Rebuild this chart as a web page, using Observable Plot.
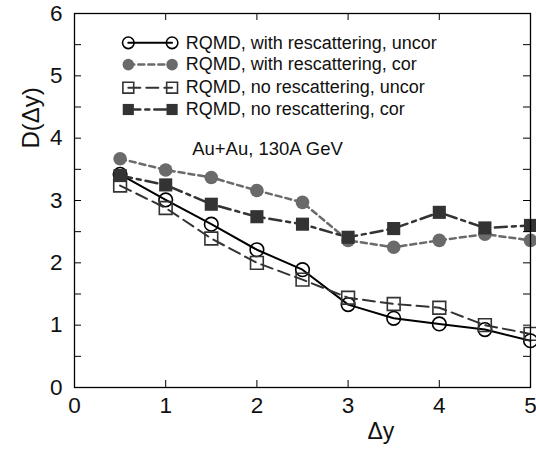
<!DOCTYPE html>
<html>
<head>
<meta charset="utf-8">
<script src="https://cdn.jsdelivr.net/npm/d3@7"></script>
<script src="https://cdn.jsdelivr.net/npm/@observablehq/plot@0.6"></script>
<style>
  html, body { margin: 0; padding: 0; background: #fff; }
  svg { display: block; }
</style>
</head>
<body>
<div id="chart"></div>
<script>
// ---- data ----
const dy = [0.5, 1, 1.5, 2, 2.5, 3, 3.5, 4, 4.5, 5];
const withResUncor = [3.42, 3.01, 2.62, 2.21, 1.89, 1.33, 1.11, 1.02, 0.93, 0.75];
const withResCor   = [3.67, 3.49, 3.37, 3.16, 2.97, 2.36, 2.25, 2.36, 2.46, 2.36];
const noResUncor   = [3.24, 2.88, 2.39, 2.00, 1.73, 1.44, 1.34, 1.28, 1.00, 0.86];
const noResCor     = [3.40, 3.25, 2.94, 2.74, 2.62, 2.41, 2.55, 2.81, 2.56, 2.60];
const seriesNames = [
  "RQMD, with rescattering, uncor",
  "RQMD, with rescattering, cor",
  "RQMD, no rescattering, uncor",
  "RQMD, no rescattering, cor"
];
const xTicks = [0, 1, 2, 3, 4, 5];
const yTicks = [0, 1, 2, 3, 4, 5, 6];
const yMinorTicks = [0.5, 1, 1.5, 2, 2.5, 3, 3.5, 4, 4.5, 5, 5.5];
const annotation = "Au+Au, 130A GeV";
const xLabel = "Δy";
const yLabel = "D(Δy)";

// ---- styles ----
const styles = [
  {values: withResUncor, stroke: "#000", dash: null, symbol: "circle", fill: "none", r: 6.8, sw: 2},
  {values: withResCor, stroke: "#6a6a6a", dash: "6,4", symbol: "circle", fill: "#6a6a6a", r: 6.8, sw: 2.5},
  {values: noResUncor, stroke: "#333", dash: "12,6", symbol: "square", fill: "none", r: 7.2, sw: 2},
  {values: noResCor, stroke: "#333", dash: "12,5,4,5", symbol: "square", fill: "#333", r: 7.4, sw: 2.5}
];

const W = 536, H = 453;
const mL = 74, mR = 6, mT = 13, mB = 66;
const fw = W - mL - mR, fh = H - mT - mB;
const tickLen = 7;

const marks = [];
styles.forEach((s, i) => {
  const data = dy.map((x, j) => ({x, y: s.values[j]}));
  marks.push(Plot.line(data, {x: "x", y: "y", stroke: s.stroke, strokeWidth: s.sw, strokeDasharray: s.dash}));
  marks.push(Plot.dot(data, {x: "x", y: "y", symbol: s.symbol, r: s.r, stroke: s.fill === "none" ? s.stroke : null, strokeWidth: 1.6, fill: s.fill === "none" ? "none" : s.fill}));
});

// legend (placed in data coordinates of the frame)
const legX0 = 0.59, legX1 = 1.07, legTextX = 1.22;
const legY = [5.53, 5.18, 4.81, 4.46];
styles.forEach((s, i) => {
  const seg = [{x: legX0, y: legY[i]}, {x: legX1, y: legY[i]}];
  marks.push(Plot.line(seg, {x: "x", y: "y", stroke: s.stroke, strokeWidth: s.sw, strokeDasharray: s.dash}));
  marks.push(Plot.dot(seg, {x: "x", y: "y", symbol: s.symbol, r: s.r * 0.85, stroke: s.fill === "none" ? s.stroke : null, strokeWidth: 1.6, fill: s.fill === "none" ? "none" : s.fill}));
  marks.push(Plot.text([seriesNames[i]], {x: legTextX, y: legY[i], textAnchor: "start", fontSize: 18, fill: "#111"}));
});
marks.push(Plot.text([annotation], {x: 1.29, y: 3.83, textAnchor: "start", fontSize: 18.5, fill: "#111"}));

// inward ticks
marks.push(Plot.tickX(xTicks.slice(1, -1), {x: d => d, insetTop: fh - tickLen, stroke: "#000", strokeWidth: 1}));
marks.push(Plot.tickX(xTicks.slice(1, -1), {x: d => d, insetBottom: fh - tickLen, stroke: "#000", strokeWidth: 1}));
marks.push(Plot.tickY(yMinorTicks, {y: d => d, insetRight: fw - tickLen, stroke: "#000", strokeWidth: 1}));
marks.push(Plot.tickY(yMinorTicks, {y: d => d, insetLeft: fw - tickLen, stroke: "#000", strokeWidth: 1}));

// axes labels
marks.push(Plot.axisX({ticks: xTicks, tickSize: 0, tickPadding: 10, fontSize: 22.5, label: null, tickFormat: d => d}));
marks.push(Plot.axisY({ticks: yTicks, tickSize: 0, tickPadding: 12, fontSize: 22.5, label: null, tickFormat: d => d}));
marks.push(Plot.text([xLabel], {x: 3.36, frameAnchor: "bottom", dy: 51, fontSize: 23, fill: "#111"}));
marks.push(Plot.text([yLabel], {frameAnchor: "left", dx: -43, dy: -52, rotate: -90, fontSize: 24, fill: "#111"}));
marks.push(Plot.frame({stroke: "#000", strokeWidth: 1.3}));

const chart = Plot.plot({
  width: W, height: H,
  marginLeft: mL, marginRight: mR, marginTop: mT, marginBottom: mB,
  style: {fontFamily: "'Liberation Sans', Arial, sans-serif", color: "#111", background: "#fff"},
  x: {domain: [0, 5], axis: null},
  y: {domain: [0, 6], axis: null},
  marks
});
document.getElementById("chart").appendChild(chart);
</script>
</body>
</html>
